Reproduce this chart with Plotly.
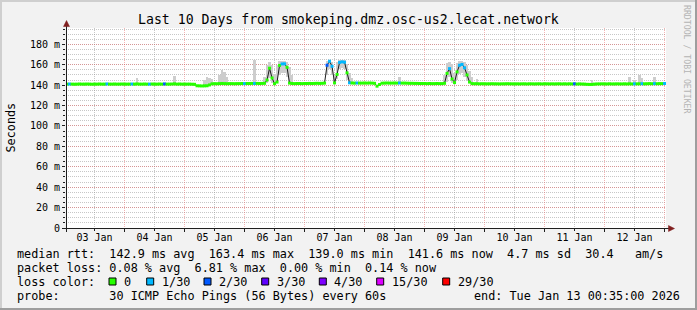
import plotly.graph_objects as go
import pandas as pd

# ---------------- data ----------------
start_time = "2026-01-03 00:35"
end_time = "2026-01-13 00:35"
hours = pd.date_range("2026-01-03 01:00", periods=240, freq="h")

median_ms = [
    141.0, 141.1, 141.0, 140.9, 141.0, 141.1, 141.0, 141.0, 141.1, 141.0, 140.9, 141.0,
    141.0, 141.1, 141.0, 141.0, 141.2, 141.0, 141.0, 141.1, 141.0, 141.0, 141.1, 141.0,
    141.0, 141.0, 141.1, 141.0, 141.2, 141.0, 141.0, 141.1, 141.0, 141.0, 141.1, 141.0,
    141.0, 141.1, 141.0, 141.2, 141.0, 141.0, 141.1, 141.3, 141.0, 141.1, 141.0, 141.0,
    141.0, 141.0, 140.9, 140.8, 139.4, 139.3, 139.2, 139.3, 139.4, 140.2, 141.3, 141.4,
    141.4, 141.5, 141.6, 141.5, 141.4, 141.5, 141.5, 141.4, 141.5, 141.5, 141.6, 141.5,
    141.6, 141.6, 141.7, 141.6, 141.7, 141.6, 141.7, 141.8, 145.0, 156.6, 147.0, 141.4,
    143.0, 159.3, 160.8, 160.9, 157.5, 142.0, 141.6, 141.5, 141.6, 141.6, 141.5, 141.6,
    141.6, 141.7, 141.6, 141.7, 141.8, 141.7, 141.8, 142.0, 159.5, 163.4, 158.5, 142.2,
    150.5, 162.3, 162.8, 162.5, 152.0, 142.3, 142.1, 142.0, 142.1, 142.0, 142.0, 142.1,
    142.0, 142.1, 142.0, 141.8, 139.0, 140.6, 141.9, 142.0, 142.1, 142.0, 142.0, 142.1,
    142.0, 142.1, 142.0, 142.0, 141.9, 141.8, 141.8, 141.7, 141.7, 141.6, 141.6, 141.6,
    141.5, 141.6, 141.5, 141.5, 141.6, 141.5, 141.5, 141.8, 151.5, 156.2, 146.0, 142.5,
    153.0, 159.5, 160.3, 157.0, 150.0, 143.0, 141.5, 141.4, 141.4, 141.3, 141.4, 141.3,
    141.3, 141.3, 141.4, 141.3, 141.3, 141.2, 141.3, 141.3, 141.4, 141.3, 141.3, 141.2,
    141.3, 141.2, 141.3, 141.3, 141.2, 141.3, 141.3, 141.2, 141.3, 141.3, 141.2, 141.3,
    141.3, 141.2, 141.3, 141.2, 141.3, 141.3, 141.2, 141.3, 141.2, 141.3, 141.2, 141.3,
    141.1, 141.2, 141.1, 141.0, 140.8, 140.7, 140.7, 141.0, 141.2, 141.2, 141.3, 141.2,
    141.2, 141.3, 141.2, 141.2, 141.3, 141.2, 141.2, 141.3, 141.2, 141.3, 141.2, 141.3,
    141.3, 141.3, 141.4, 141.3, 141.4, 141.5, 141.4, 141.5, 141.4, 141.5, 141.5, 141.6,
]

# hours (index into `hours`) that had packet loss, and the loss count out of 30
loss_idx = [1, 16, 26, 33, 39, 71, 75, 86, 87, 104, 105, 106, 109, 110, 111, 113, 116,
            133, 153, 157, 158, 159, 203, 227, 230, 235, 239]
loss_cnt = [1, 1, 1, 1, 2, 1, 1, 1, 1, 2, 1, 1, 1, 1, 1, 1, 1,
            1, 1, 1, 1, 1, 2, 1, 1, 1, 1]

# visible smoke (ping spread) by hour index: low and high edge in ms
smoke_idx = [28, 43, 55, 56, 57, 58, 61, 62, 63, 64, 75, 79, 80, 81, 82, 83, 84, 85, 86, 87,
             88, 89, 90, 104, 105, 106, 107, 108, 109, 110, 111, 112, 113, 114, 133, 151, 152,
             153, 154, 155, 156, 157, 158, 159, 160, 161, 162, 164, 210, 225, 227, 229, 230, 235]
smoke_lo = [141, 141, 139.5, 139.5, 140, 141, 141.5, 141.5, 141.5, 141.5, 141.5, 141.5, 142,
            147, 142, 141.5, 142, 150, 152, 152, 148, 142, 141.5, 150, 156, 150, 142, 146,
            156, 157, 156, 145, 142, 142, 142, 141.5, 143, 148, 142, 142, 145, 151, 152, 148,
            144, 142, 141.5, 141.5, 141.3, 141.3, 141.3, 141.3, 141.3, 141.3]
smoke_hi = [147, 149, 145, 147.5, 147, 146, 150, 155, 153, 148, 164.5, 148, 160, 162.5, 160,
            151, 160, 163.5, 164, 164, 163, 158, 150, 164, 165, 163, 150, 163, 164.5, 165,
            164.5, 161, 152, 147, 148, 150, 162, 163, 161, 152, 162, 163.5, 164, 163, 160,
            154, 148, 146, 145, 148, 145.5, 150, 147, 148]

loss_levels = [0, 1, 2, 3, 4, 15, 29]
loss_labels = ["0", "1/30", "2/30", "3/30", "4/30", "15/30", "29/30"]
loss_colors = ["#26ff00", "#00b8ff", "#0059ff", "#5e00ff", "#7e00ff", "#dd00ff", "#ff0000"]

y_tickvals = [0, 20, 40, 60, 80, 100, 120, 140, 160, 180]
y_ticktext = ["0", "20 m", "40 m", "60 m", "80 m", "100 m", "120 m", "140 m", "160 m", "180 m"]

title_text = "Last 10 Days from smokeping.dmz.osc-us2.lecat.network"
ytitle_text = "Seconds"
stat_lines = [
    "median rtt:  142.9 ms avg  163.4 ms max  139.0 ms min  141.6 ms now  4.7 ms sd  30.4   am/s",
    "packet loss: 0.08 % avg  6.81 % max  0.00 % min  0.14 % now",
]
loss_caption = "loss color:"
probe_text = "probe:       30 ICMP Echo Pings (56 Bytes) every 60s"
end_text = "end: Tue Jan 13 00:35:00 2026"
watermark = "RRDTOOL / TOBI OETIKER"

# ---------------- layout geometry ----------------
W, H = 697, 310
L, R, T, B = 66, 31, 28, 82
PW, PH = W - L - R, H - T - B
YMAX = 196.0
MONO = "DejaVu Sans Mono"


def px(x):
    return (x - L) / PW


def py(y):
    return (H - B - y) / PH


def level_color(n):
    col = loss_colors[0]
    for lv, c in zip(loss_levels, loss_colors):
        if n >= lv:
            col = c
    return col


point_colors = [loss_colors[0]] * len(median_ms)
for i, n in zip(loss_idx, loss_cnt):
    point_colors[i] = level_color(n)

fig = go.Figure()

# smoke
fig.add_trace(go.Bar(
    x=[hours[i] for i in smoke_idx],
    base=smoke_lo,
    y=[h - l for h, l in zip(smoke_hi, smoke_lo)],
    width=3600000,
    marker=dict(color="#cdcdcd", line=dict(width=0)),
    hoverinfo="skip",
))
# dark median path
fig.add_trace(go.Scatter(
    x=hours, y=median_ms, mode="lines",
    line=dict(color="#1c1c1c", width=1), hoverinfo="skip",
))
# loss-coloured median
fig.add_trace(go.Scatter(
    x=hours, y=median_ms, mode="markers",
    marker=dict(symbol="square", size=3, color=point_colors, line=dict(width=0)),
    hoverinfo="skip",
))

grid_minor = "rgba(143,143,143,0.5)"
grid_major = "rgba(230,90,90,0.45)"

fig.update_xaxes(
    type="date", range=[start_time, end_time],
    tick0="2026-01-03", dtick=86400000, tickformat="%d %b", ticklabelmode="period",
    showgrid=True, gridcolor=grid_major, griddash="1px,1px", gridwidth=1,
    ticks="outside", ticklen=3, tickcolor="#1f1f1f", ticklabelstandoff=-3,
    tickfont=dict(family=MONO, size=10, color="#000"),
    minor=dict(dtick=43200000, showgrid=True, gridcolor=grid_minor, griddash="1px,1px",
               ticks="outside", ticklen=2, tickcolor="#1f1f1f"),
    showline=False, zeroline=False, fixedrange=True,
)
fig.update_yaxes(
    range=[0, YMAX], tickvals=y_tickvals, ticktext=y_ticktext,
    showgrid=True, gridcolor=grid_major, griddash="1px,1px", gridwidth=1,
    ticks="outside", ticklen=3, tickcolor="#1f1f1f",
    tickfont=dict(family=MONO, size=10, color="#000"),
    minor=dict(dtick=5, showgrid=True, gridcolor=grid_minor, griddash="1px,1px",
               ticks="outside", ticklen=2, tickcolor="#1f1f1f"),
    showline=False, zeroline=False, fixedrange=True,
)

shapes = []


def add_shape(**kw):
    kw.setdefault("xref", "paper")
    kw.setdefault("yref", "paper")
    kw.setdefault("layer", "above")
    shapes.append(kw)


# frame
add_shape(type="line", x0=px(0), x1=px(W), y0=py(1), y1=py(1), line=dict(color="#cfcfcf", width=2))
add_shape(type="line", x0=px(1), x1=px(1), y0=py(0), y1=py(H), line=dict(color="#cfcfcf", width=2))
add_shape(type="line", x0=px(0), x1=px(W), y0=py(H - 1), y1=py(H - 1), line=dict(color="#9e9e9e", width=2))
add_shape(type="line", x0=px(W - 1), x1=px(W - 1), y0=py(0), y1=py(H), line=dict(color="#9e9e9e", width=2))
# axes
add_shape(type="line", x0=px(62), x1=px(669), y0=py(228.5), y1=py(228.5), line=dict(color="#1f1f1f", width=1))
add_shape(type="line", x0=px(66.5), x1=px(66.5), y0=py(232), y1=py(25), line=dict(color="#1f1f1f", width=1))
# arrows
add_shape(type="path", path=f"M {px(66.5)},{py(20.5)} L {px(63.5)},{py(26.5)} L {px(69.5)},{py(26.5)} Z",
          fillcolor="#801f1f", line=dict(color="#801f1f", width=0.5))
add_shape(type="path", path=f"M {px(674.5)},{py(228.5)} L {px(668.5)},{py(225.5)} L {px(668.5)},{py(231.5)} Z",
          fillcolor="#801f1f", line=dict(color="#801f1f", width=0.5))

annotations = []


def add_text(text, x, y, size=11.8, xanchor="left", color="#000", angle=0):
    annotations.append(dict(text=text, x=px(x), y=py(y), xref="paper", yref="paper",
                            xanchor=xanchor, yanchor="middle", showarrow=False,
                            textangle=angle, borderpad=0,
                            font=dict(family=MONO, size=size, color=color)))


add_text(title_text, 348.5, 19, size=13.2, xanchor="center")
add_text(ytitle_text, 10.5, 128, size=11.8, xanchor="center", angle=-90)
add_text(watermark, 687, 59, size=8.2, xanchor="center", color="#b4b4b4", angle=90)
line_y = [253.5, 268, 282, 296]
add_text(stat_lines[0], 16, line_y[0])
add_text(stat_lines[1], 16, line_y[1])
add_text(loss_caption, 16, line_y[2])
add_text(probe_text, 16, line_y[3])
add_text(end_text, 681, line_y[3], xanchor="right")

square_x = [109, 146.7, 204, 261.7, 319.3, 376.7, 442.7]
for sx, lab, col in zip(square_x, loss_labels, loss_colors):
    add_shape(type="rect", x0=px(sx), x1=px(sx + 7), y0=py(285), y1=py(278),
              fillcolor=col, line=dict(color="#000", width=1))
    add_text(lab, sx + 14, line_y[2])

fig.update_layout(
    width=W, height=H, margin=dict(l=L, r=R, t=T, b=B, pad=0),
    paper_bgcolor="#f2f2f2", plot_bgcolor="#ffffff",
    showlegend=False, bargap=0, shapes=shapes, annotations=annotations,
)

fig.write_html("out.html")
